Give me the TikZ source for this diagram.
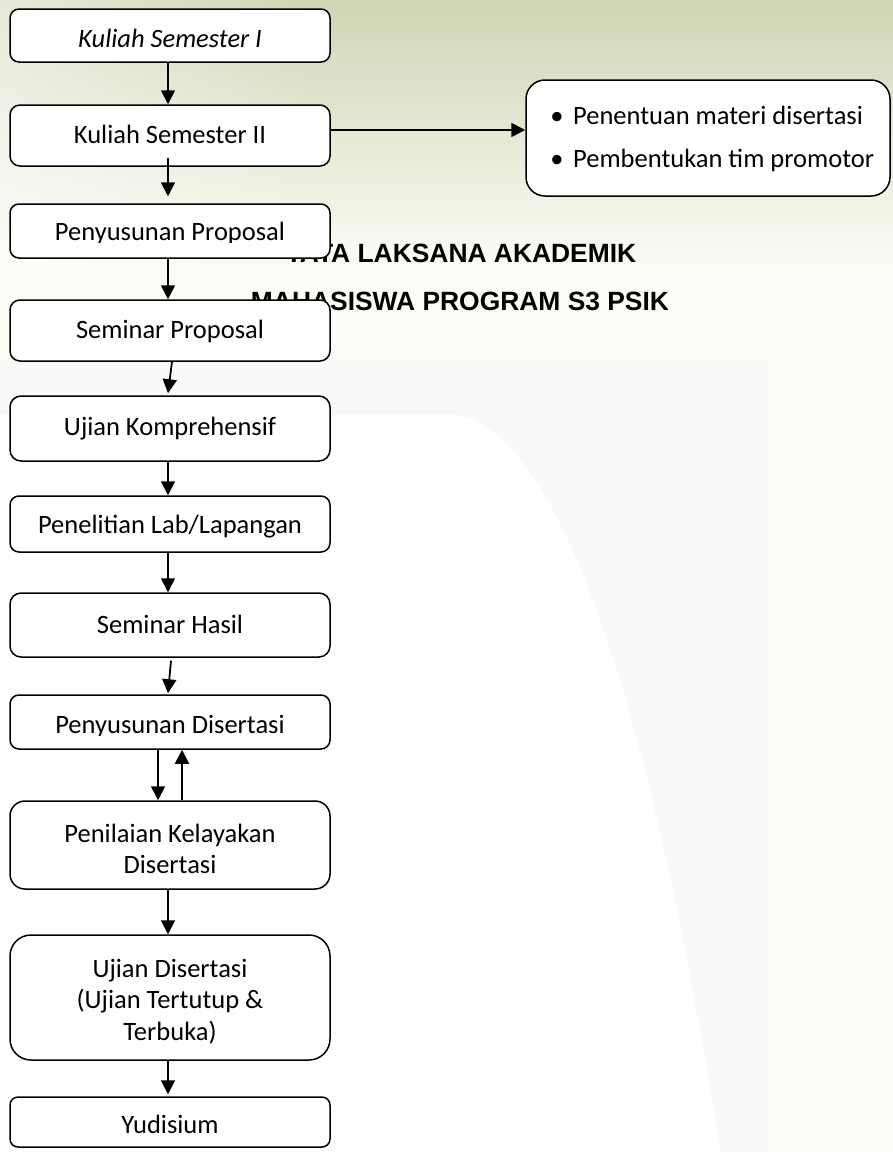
\documentclass[tikz,border=0pt]{standalone}
\usepackage{fontspec}
\setmainfont{Carlito}
\newfontfamily\titlefont{Liberation Sans}
\usetikzlibrary{arrows.meta,fadings}
\tikzfading[name=fadeRightWhite, left color=transparent!0, right color=transparent!100]
\definecolor{bgtop}{RGB}{208,213,180}
\definecolor{bggrey}{RGB}{249,249,247}
\definecolor{bgcream}{RGB}{252,252,246}
\begin{document}
\begin{tikzpicture}[x=1pt,y=-1pt,
  flowbox/.style={draw=black, line width=1.5pt, fill=white, rounded corners=#1,
    minimum width=320pt, inner sep=0pt},
  flowbox/.default=9pt,
  lbl/.style={font=\fontsize{26.5}{31}\selectfont, inner sep=0pt, anchor=base},
  ttl/.style={font=\titlefont\bfseries\fontsize{26.4}{30}\selectfont, inner sep=0pt, anchor=base},
  arr/.style={line width=1.8pt, -{Triangle[length=14pt,width=14pt]}}]
\useasboundingbox (0,0) rectangle (893,1152);
% background
\fill[bgcream] (0,0) rectangle (893,1152);
\fill[bggrey] (0,358) rectangle (770,1152);
\fill[white] (0,415) -- (460,415) .. controls (560,440) and (650,700) .. (720,1152) -- (0,1152) -- cycle;
\shade[top color=bgtop, bottom color=bgcream] (0,0) rectangle (893,270);
\fill[white, fill opacity=0.5, path fading=fadeRightWhite] (0,0) rectangle (320,270);
% title (partly hidden behind boxes)
\node[ttl] (tt1) at (461,262) {TATA LAKSANA AKADEMIK};
\node[ttl] (tt2) at (460,310) {MAHASISWA PROGRAM S3 PSIK};
% boxes
\node[flowbox, minimum height=53pt] (b1) at (170,35.5) {};
\node[flowbox=10pt, minimum height=61pt] (b2) at (170,135.5) {};
\node[flowbox, minimum height=54pt] (b3) at (170,231) {};
\node[flowbox=10pt, minimum height=61pt] (b4) at (170,330.5) {};
\node[flowbox=11pt, minimum height=65pt] (b5) at (170,428.5) {};
\node[flowbox, minimum height=56pt] (b6) at (170,524) {};
\node[flowbox=11pt, minimum height=64pt] (b7) at (170,625) {};
\node[flowbox, minimum height=54pt] (b8) at (170,722) {};
\node[flowbox=15pt, minimum height=88pt] (b9) at (170,845) {};
\node[flowbox=21pt, minimum height=125pt] (b10) at (170,997.5) {};
\node[flowbox=8pt, minimum height=50pt] (b11) at (170,1122) {};
\node[flowbox=19pt, minimum width=364pt, minimum height=116pt] (rb) at (708,138) {};
% labels
\node[lbl] (t1) at (170,47) {\itshape Kuliah Semester I};
\node[lbl] (t2) at (170,143) {Kuliah Semester II};
\begin{scope}
\clip (10,200) rectangle (330,242);
\node[lbl] (t3) at (170,240) {Penyusunan Proposal};
\end{scope}
\node[lbl] (t4) at (170,338) {Seminar Proposal};
\node[lbl] (t5) at (170,435) {Ujian Komprehensif};
\node[lbl] (t6) at (170,533) {Penelitian Lab/Lapangan};
\node[lbl] (t7) at (170,633) {Seminar Hasil};
\begin{scope}
\clip (10,690) rectangle (330,735);
\node[lbl] (t8) at (170,733) {Penyusunan Disertasi};
\end{scope}
\node[lbl] (t9a) at (170,842) {Penilaian Kelayakan};
\node[lbl] (t9b) at (170,873) {Disertasi};
\node[lbl] (t10a) at (170,977) {Ujian Disertasi};
\node[lbl] (t10b) at (170,1008) {(Ujian Tertutup \&};
\node[lbl] (t10c) at (170,1040) {Terbuka)};
\node[lbl] (t11) at (170,1133) {Yudisium};
\node[lbl] (rbd1) at (557,124) {•};
\node[lbl, anchor=base west] (rbt1) at (573,124) {Penentuan materi disertasi};
\node[lbl] (rbd2) at (557,167) {•};
\node[lbl, anchor=base west] (rbt2) at (573,167) {Pembentukan tim promotor};
% connectors
\draw[arr] ([xshift=-2pt]b1.south) -- ([xshift=-2pt]b2.north);
\draw[arr] ([xshift=-2pt,yshift=9pt]b2.south) -- ([xshift=-2pt,yshift=7pt]b3.north);
\draw[arr] ([xshift=-2pt]b3.south) -- ([xshift=-2pt]b4.north);
\draw[arr] ([xshift=2pt]b4.south) -- ([xshift=-2pt,yshift=2pt]b5.north);
\draw[arr] ([xshift=-2pt]b5.south) -- ([xshift=-2pt]b6.north);
\draw[arr] ([xshift=-2pt]b6.south) -- ([xshift=-2pt]b7.north);
\draw[arr] ([xshift=1pt,yshift=-3pt]b7.south) -- ([xshift=-2pt,yshift=1pt]b8.north);
\draw[arr] ([xshift=-12pt]b8.south) -- ([xshift=-12pt]b9.north);
\draw[arr] ([xshift=12pt]b9.north) -- ([xshift=12pt]b8.south);
\draw[arr] ([xshift=-2pt]b9.south) -- ([xshift=-2pt]b10.north);
\draw[arr] ([xshift=-2pt]b10.south) -- ([xshift=-2pt,yshift=2pt]b11.north);
\draw[arr] ([yshift=5.5pt]b2.east) -- ([yshift=5.5pt]b2.east -| rb.west);
\end{tikzpicture}
\end{document}
